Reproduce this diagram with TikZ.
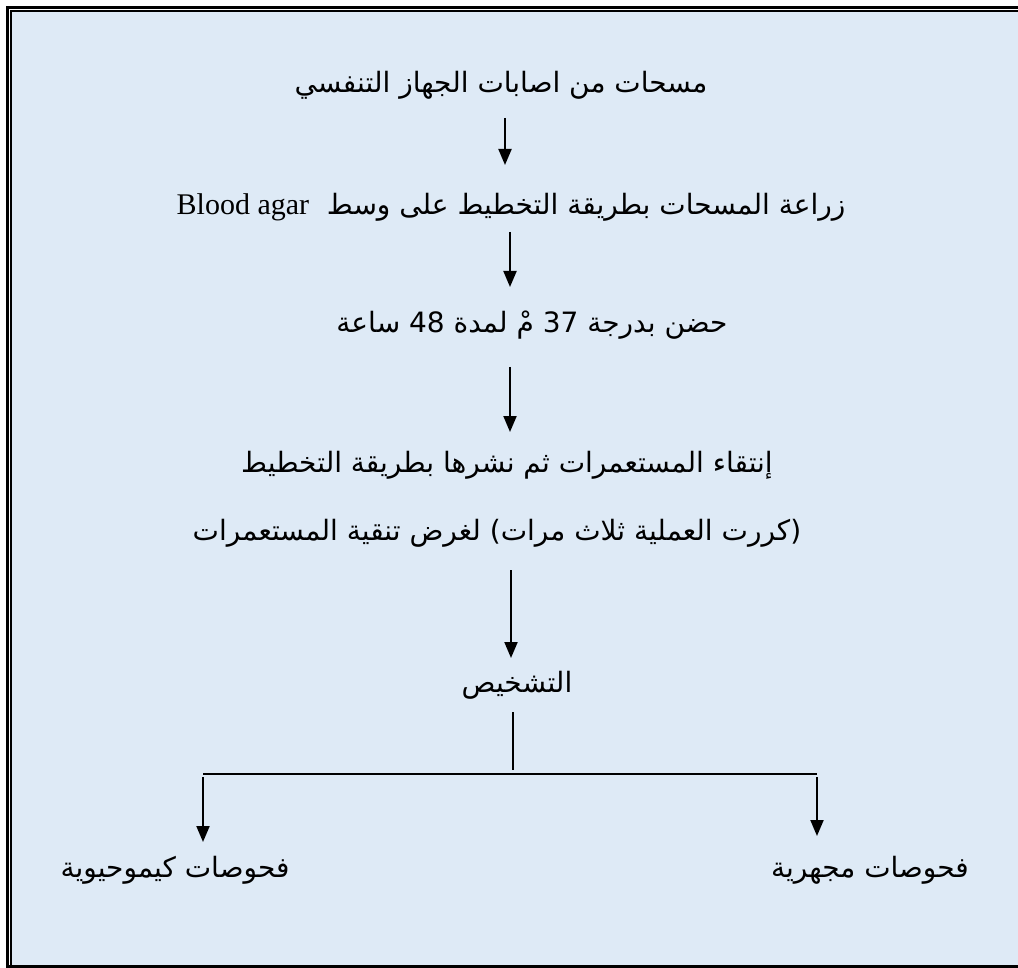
\documentclass[tikz,border=0pt]{standalone}
\usepackage{fontspec}
\usetikzlibrary{arrows.meta}
\TeXXeTstate=1
\newfontfamily\arabicfont[Script=Arabic]{DejaVu Sans}
\newfontfamily\latinserif{Liberation Serif}
\definecolor{bgblue}{HTML}{DEEAF6}
\tikzset{
  txt/.style={inner sep=0pt, font=\arabicfont\fontsize{28}{32}\selectfont, text=black},
  arr/.style={draw=black, line width=2pt, -{Triangle[width=13pt,length=16pt]}},
  plainline/.style={draw=black, line width=2pt},
  thinline/.style={draw=black, line width=1.3pt}
}
\begin{document}
\begin{tikzpicture}[x=1pt,y=-1pt]
\useasboundingbox (0,0) rectangle (1018,968);
\begin{scope}
\clip (0,0) rectangle (1018,968);
\fill[white] (0,0) rectangle (1018,968);
\fill[bgblue] (11,11) rectangle (1050,990);
\draw[line width=3pt] (1050,7.5) -- (7.5,7.5) -- (7.5,966.5) -- (1050,966.5);
\draw[line width=1.5pt] (1050,11) -- (11,11) -- (11,990);
\end{scope}

\node[txt] (n1) at (501,85) {\beginR مسحات من اصابات الجهاز التنفسي\endR};
\node[txt] (n2) at (511,207) {\beginR زراعة المسحات بطريقة التخطيط على وسط \ \beginL{\latinserif\fontsize{30}{32}\selectfont Blood agar}\endL\endR};
\node[txt] (n3) at (532,325) {\beginR حضن بدرجة \beginL 37\endL{} مْ لمدة \beginL 48\endL{} ساعة\endR};
\node[txt] (n4) at (507,465) {\beginR إنتقاء المستعمرات ثم نشرها بطريقة التخطيط\endR};
\node[txt] (n5) at (497,533) {\beginR (كررت العملية ثلاث مرات) لغرض تنقية المستعمرات\endR};
\node[txt] (n6) at (517,685) {\beginR التشخيص\endR};
\node[txt] (l) at (175,870) {\beginR فحوصات كيموحيوية\endR};
\node[txt] (r) at (870,870) {\beginR فحوصات مجهرية\endR};

\coordinate (a1s) at (505,118); \coordinate (a1e) at (505,165);
\coordinate (a2s) at (510,232); \coordinate (a2e) at (510,287);
\coordinate (a3s) at (510,367); \coordinate (a3e) at (510,432);
\coordinate (a4s) at (511,570); \coordinate (a4e) at (511,658);
\coordinate (vs) at (513,712); \coordinate (ve) at (513,770);
\coordinate (hl) at (203,774); \coordinate (hr) at (817,774);
\coordinate (le) at (203,842); \coordinate (re) at (817,836);

\draw[arr] (a1s) -- (a1e);
\draw[arr] (a2s) -- (a2e);
\draw[arr] (a3s) -- (a3e);
\draw[arr] (a4s) -- (a4e);
\draw[thinline] (vs) -- (ve);
\draw[plainline] (hl) -- (hr);
\draw[arr] ([yshift=-3pt]hl) -- (le);
\draw[arr] ([yshift=-3pt]hr) -- (re);
\end{tikzpicture}
\end{document}
